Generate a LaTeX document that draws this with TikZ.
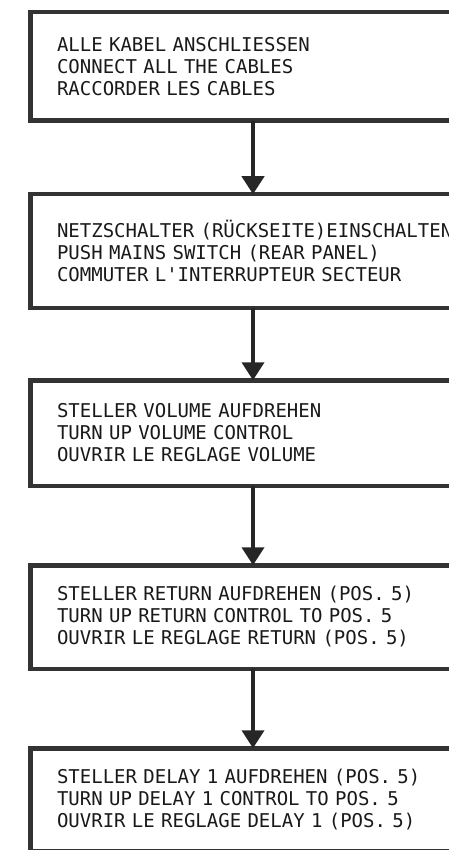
\documentclass[tikz,border=0pt]{standalone}
\usepackage{fontspec}
\setmonofont{DejaVu Sans Mono}
\usetikzlibrary{arrows.meta}

\tikzset{
  stepbox/.style={rectangle, draw=black!80, line width=4.5pt, outer sep=0pt,
    anchor=north west, minimum width=445pt, text width=392pt, inner xsep=26.5pt,
    align=left, text=black!90, font=\ttfamily\fontsize{19}{22}\selectfont},
  flow/.style={draw=black!85, line width=4pt, -{Triangle[width=22pt,length=18pt]}}
}

\begin{document}
\begin{tikzpicture}[x=1pt,y=-1pt]
    % Page frame
    \useasboundingbox (0,0) rectangle (449,850);
    \clip (0,0) rectangle (449,850);

    % Cables
    \node[stepbox, minimum height=108.5pt] (cables) at (30.5,12.25)
        {ALLE KABEL ANSCHLIESSEN\\CONNECT ALL THE CABLES\\RACCORDER LES CABLES};

    % Mains switch (first line runs off the edge)
    \node[stepbox, minimum height=113.5pt] (mains) at (30.5,194.25)
        {\mbox{NETZSCHALTER (RÜCKSEITE)EINSCHALTEN}\\PUSH MAINS SWITCH (REAR PANEL)\\COMMUTER L'INTERRUPTEUR SECTEUR};

    % Volume
    \node[stepbox, minimum height=105.5pt] (volume) at (30.5,380.25)
        {STELLER VOLUME AUFDREHEN\\TURN UP VOLUME CONTROL\\OUVRIR LE REGLAGE VOLUME};

    % Return
    \node[stepbox, minimum height=103.5pt] (return) at (30.5,565.25)
        {STELLER RETURN AUFDREHEN (POS. 5)\\TURN UP RETURN CONTROL TO POS. 5\\OUVRIR LE REGLAGE RETURN (POS. 5)};

    % Delay 1
    \node[stepbox, minimum height=102.5pt] (delay) at (30.5,748.25)
        {STELLER DELAY 1 AUFDREHEN (POS. 5)\\TURN UP DELAY 1 CONTROL TO POS. 5\\OUVRIR LE REGLAGE DELAY 1 (POS. 5)};

    % Arrows
    \draw[flow] (cables.south) -- (mains.north);
    \draw[flow] (mains.south) -- (volume.north);
    \draw[flow] (volume.south) -- (return.north);
    \draw[flow] (return.south) -- (delay.north);

\end{tikzpicture}
\end{document}
